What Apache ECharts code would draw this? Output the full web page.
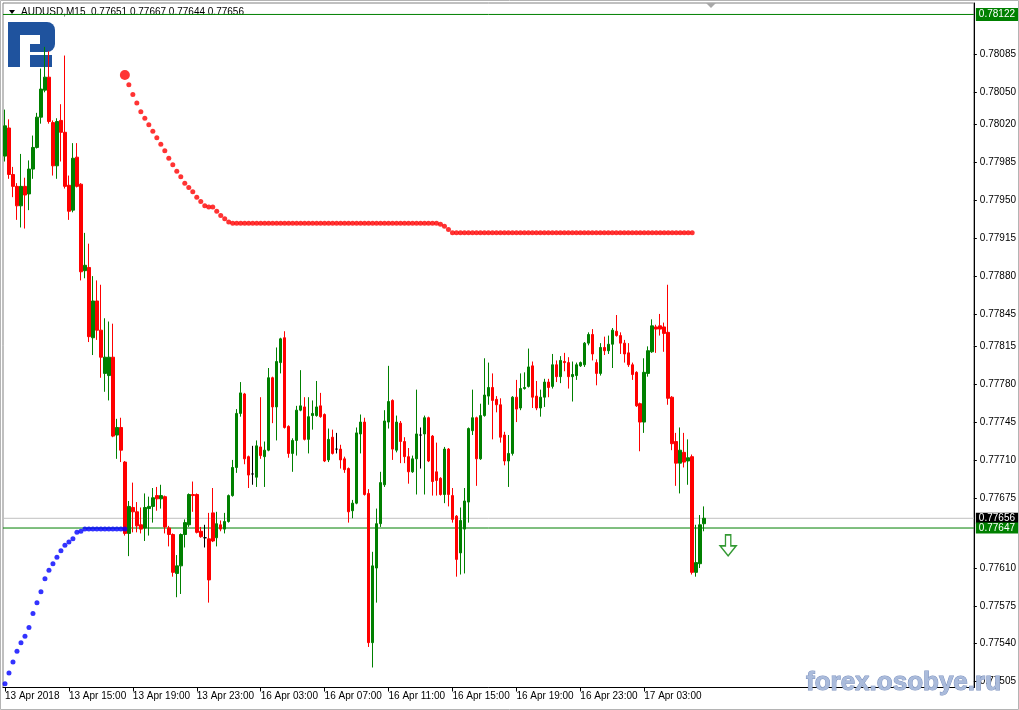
<!DOCTYPE html>
<html><head><meta charset="utf-8">
<script src="https://cdn.jsdelivr.net/npm/echarts@6/dist/echarts.min.js"></script>
<style>html,body{margin:0;padding:0;background:#fff}#c{width:1019px;height:710px}</style>
</head><body><div id="c"></div><script>
// ---- data (AUDUSD M15) ----
const tickLabels = ['13 Apr 2018','13 Apr 15:00','13 Apr 19:00','13 Apr 23:00','16 Apr 03:00','16 Apr 07:00','16 Apr 11:00','16 Apr 15:00','16 Apr 19:00','16 Apr 23:00','17 Apr 03:00'];
const barsPerTick = 16;
const totalSlots = 243;
const priceTicks = [0.78085,0.78050,0.78020,0.77985,0.77950,0.77915,0.77880,0.77845,0.77815,0.77780,0.77745,0.77710,0.77675,0.77610,0.77575,0.77540,0.77505];
const yMin = 0.774995, yMax = 0.781326;

const open = [
0.77991,0.78017,0.77974,0.77963,0.77945,0.77963,0.77956,0.77979,0.77999,0.78027,
0.78052,0.78064,0.78022,0.77982,0.78024,0.78013,0.77964,0.77941,0.77990,0.77965,
0.77885,0.77888,0.77823,0.77857,0.77830,0.77790,0.77788,0.77805,0.77733,0.77740,
0.77708,0.77642,0.77666,0.77662,0.77650,0.77647,0.77665,0.77667,0.77677,0.77674,
0.77676,0.77647,0.77641,0.77605,0.77612,0.77641,0.77650,0.77678,0.77678,0.77644,
0.77638,0.77637,0.77661,0.77638,0.77650,0.77646,0.77653,0.77677,0.77703,0.77753,
0.77771,0.77713,0.77697,0.77694,0.77722,0.77713,0.77719,0.77786,0.77759,0.77800,
0.77823,0.77741,0.77716,0.77728,0.77756,0.77759,0.77729,0.77751,0.77751,0.77760,
0.77752,0.77710,0.77731,0.77720,0.77720,0.77711,0.77702,0.77663,0.77670,0.77734,
0.77745,0.77679,0.77541,0.77610,0.77651,0.77687,0.77745,0.77765,0.77719,0.77744,
0.77727,0.77713,0.77699,0.77711,0.77733,0.77734,0.77749,0.77732,0.77699,0.77693,
0.77678,0.77720,0.77677,0.77658,0.77624,0.77646,0.77671,0.77737,0.77749,0.77711,
0.77751,0.77769,0.77777,0.77766,0.77761,0.77733,0.77709,0.77716,0.77768,0.77758,
0.77776,0.77778,0.77797,0.77769,0.77758,0.77768,0.77782,0.77778,0.77798,0.77787,
0.77801,0.77800,0.77787,0.77788,0.77797,0.77798,0.77818,0.77826,0.77800,0.77790,
0.77814,0.77811,0.77817,0.77829,0.77825,0.77818,0.77809,0.77798,0.77791,0.77762,
0.77745,0.77790,0.77810,0.77833,0.77834,0.77833,0.77828,0.77768,0.77727,0.77707,
0.77717,0.77709,0.77713,0.77606,0.77614,0.77651];
const high = [
0.78034,0.78025,0.77981,0.77966,0.77993,0.77971,0.77987,0.78010,0.78031,0.78072,
0.78092,0.78088,0.78024,0.78026,0.78039,0.78084,0.77973,0.78003,0.78003,0.77966,
0.77920,0.77910,0.77880,0.77876,0.77872,0.77841,0.77838,0.77836,0.77748,0.77749,
0.77709,0.77672,0.77689,0.77671,0.77666,0.77679,0.77676,0.77684,0.77685,0.77687,
0.77677,0.77649,0.77642,0.77622,0.77642,0.77655,0.77679,0.77690,0.77679,0.77648,
0.77650,0.77661,0.77684,0.77662,0.77654,0.77661,0.77678,0.77710,0.77757,0.77782,
0.77772,0.77714,0.77723,0.77728,0.77768,0.77727,0.77795,0.77787,0.77814,0.77823,
0.77829,0.77742,0.77730,0.77760,0.77793,0.77768,0.77768,0.77765,0.77783,0.77772,
0.77753,0.77739,0.77738,0.77735,0.77724,0.77713,0.77703,0.77673,0.77740,0.77752,
0.77749,0.77683,0.77625,0.77665,0.77699,0.77756,0.77797,0.77766,0.77751,0.77746,
0.77731,0.77721,0.77714,0.77775,0.77740,0.77751,0.77750,0.77733,0.77726,0.77694,
0.77722,0.77721,0.77684,0.77659,0.77666,0.77684,0.77740,0.77775,0.77750,0.77762,
0.77804,0.77800,0.77790,0.77769,0.77767,0.77736,0.77733,0.77769,0.77784,0.77790,
0.77791,0.77813,0.77801,0.77783,0.77775,0.77785,0.77785,0.77808,0.77802,0.77806,
0.77809,0.77805,0.77801,0.77800,0.77801,0.77819,0.77828,0.77831,0.77803,0.77818,
0.77824,0.77825,0.77832,0.77844,0.77828,0.77821,0.77818,0.77800,0.77792,0.77763,
0.77804,0.77815,0.77840,0.77835,0.77845,0.77837,0.77872,0.77769,0.77735,0.77740,
0.77735,0.77729,0.77715,0.77650,0.77659,0.77667];
const low = [
0.77986,0.77970,0.77953,0.77932,0.77925,0.77924,0.77941,0.77970,0.77998,0.78021,
0.78050,0.78021,0.77973,0.77970,0.77986,0.77961,0.77932,0.77939,0.77962,0.77876,
0.77878,0.77819,0.77807,0.77821,0.77786,0.77773,0.77765,0.77731,0.77711,0.77708,
0.77640,0.77621,0.77643,0.77643,0.77642,0.77635,0.77640,0.77652,0.77663,0.77665,
0.77642,0.77630,0.77602,0.77583,0.77586,0.77629,0.77648,0.77662,0.77642,0.77638,
0.77629,0.77578,0.77634,0.77630,0.77644,0.77642,0.77652,0.77676,0.77698,0.77750,
0.77706,0.77684,0.77687,0.77685,0.77711,0.77685,0.77718,0.77744,0.77728,0.77790,
0.77739,0.77712,0.77699,0.77714,0.77755,0.77728,0.77716,0.77738,0.77750,0.77749,
0.77708,0.77708,0.77715,0.77716,0.77702,0.77698,0.77652,0.77656,0.77669,0.77716,
0.77677,0.77537,0.77518,0.77578,0.77648,0.77685,0.77739,0.77710,0.77717,0.77707,
0.77707,0.77688,0.77698,0.77678,0.77702,0.77678,0.77708,0.77677,0.77677,0.77677,
0.77670,0.77667,0.77652,0.77602,0.77604,0.77605,0.77652,0.77733,0.77686,0.77710,
0.77750,0.77761,0.77729,0.77754,0.77726,0.77705,0.77685,0.77714,0.77745,0.77756,
0.77775,0.77777,0.77758,0.77756,0.77750,0.77759,0.77768,0.77776,0.77782,0.77781,
0.77792,0.77776,0.77764,0.77784,0.77796,0.77796,0.77816,0.77802,0.77779,0.77788,
0.77807,0.77808,0.77795,0.77824,0.77808,0.77800,0.77796,0.77784,0.77759,0.77718,
0.77735,0.77787,0.77809,0.77809,0.77825,0.77810,0.77761,0.77719,0.77686,0.77679,
0.77703,0.77687,0.77604,0.77602,0.77610,0.77644];
const close = [
0.78019,0.77974,0.77963,0.77945,0.77963,0.77955,0.77979,0.77999,0.78027,0.78053,
0.78064,0.78023,0.77982,0.78023,0.78013,0.77963,0.77940,0.77989,0.77963,0.77884,
0.77890,0.77824,0.77857,0.77830,0.77805,0.77805,0.77805,0.77732,0.77740,0.77719,
0.77642,0.77667,0.77662,0.77649,0.77646,0.77666,0.77667,0.77675,0.77674,0.77677,
0.77648,0.77641,0.77606,0.77612,0.77641,0.77652,0.77678,0.77677,0.77643,0.77639,
0.77638,0.77599,0.77635,0.77651,0.77646,0.77653,0.77677,0.77703,0.77753,0.77772,
0.77711,0.77696,0.77697,0.77723,0.77714,0.77719,0.77786,0.77759,0.77801,0.77822,
0.77740,0.77716,0.77728,0.77756,0.77760,0.77729,0.77750,0.77753,0.77759,0.77750,
0.77709,0.77729,0.77716,0.77720,0.77710,0.77701,0.77662,0.77670,0.77735,0.77745,
0.77678,0.77541,0.77612,0.77651,0.77689,0.77746,0.77764,0.77720,0.77745,0.77727,
0.77713,0.77699,0.77711,0.77734,0.77733,0.77749,0.77709,0.77690,0.77691,0.77678,
0.77720,0.77678,0.77655,0.77618,0.77654,0.77672,0.77739,0.77749,0.77711,0.77751,
0.77770,0.77777,0.77765,0.77761,0.77731,0.77709,0.77716,0.77768,0.77757,0.77776,
0.77777,0.77796,0.77768,0.77758,0.77768,0.77782,0.77777,0.77798,0.77787,0.77802,
0.77800,0.77787,0.77789,0.77798,0.77800,0.77818,0.77826,0.77808,0.77790,0.77814,
0.77811,0.77817,0.77830,0.77825,0.77818,0.77808,0.77798,0.77789,0.77760,0.77745,
0.77791,0.77811,0.77834,0.77831,0.77831,0.77827,0.77767,0.77725,0.77707,0.77719,
0.77708,0.77712,0.77606,0.77615,0.77650,0.77656];

// indicator dots
const blueStart = 0;
const blueDots = [0.77503,0.77513,0.77523,0.77533,0.77541,0.77547,0.77555,0.77568,0.77578,0.77588,
0.77600,0.77608,0.77614,0.77620,0.77626,0.77631,0.77634,0.77637,0.77643,0.77644,
0.77646,0.77646,0.77646,0.77646,0.77646,0.77646,0.77646,0.77646,0.77646,0.77646,0.77646];
const redStart = 30;
const redDots = [0.78066,0.78057,0.78048,0.78040,0.78032,0.78026,0.78020,0.78014,0.78008,0.78002,
0.77996,0.77989,0.77983,0.77977,0.77972,0.77966,0.77962,0.77958,0.77953,0.77949,
0.77945,0.77944,0.77944,0.77940,0.77936,0.77933,0.77930,
0.77929,0.77929,0.77929,0.77929,0.77929,0.77929,0.77929,0.77929,0.77929,0.77929,
0.77929,0.77929,0.77929,0.77929,0.77929,0.77929,0.77929,0.77929,0.77929,0.77929,
0.77929,0.77929,0.77929,0.77929,0.77929,0.77929,0.77929,0.77929,0.77929,0.77929,
0.77929,0.77929,0.77929,0.77929,0.77929,0.77929,0.77929,0.77929,0.77929,0.77929,
0.77929,0.77929,0.77929,0.77929,0.77929,0.77929,0.77929,0.77929,0.77929,0.77929,
0.77929,0.77929,
0.77928,0.77926,0.77923,
0.77920,0.77920,0.77920,0.77920,0.77920,0.77920,0.77920,0.77920,0.77920,0.77920,
0.77920,0.77920,0.77920,0.77920,0.77920,0.77920,0.77920,0.77920,0.77920,0.77920,
0.77920,0.77920,0.77920,0.77920,0.77920,0.77920,0.77920,0.77920,0.77920,0.77920,
0.77920,0.77920,0.77920,0.77920,0.77920,0.77920,0.77920,0.77920,0.77920,0.77920,
0.77920,0.77920,0.77920,0.77920,0.77920,0.77920,0.77920,0.77920,0.77920,0.77920,
0.77920,0.77920,0.77920,0.77920,0.77920,0.77920,0.77920,0.77920,0.77920,0.77920,
0.77920];

// horizontal levels and signal
const levelLines = [0.78122, 0.77647];
const bidPrice = 0.77656;
const titleText = 'AUDUSD,M15  0.77651 0.77667 0.77644 0.77656';
const arrowSignal = [181, 0.77631];

// ---- chart ----
const FONT = '"Liberation Sans", Arial, sans-serif';
const cats = [];
for (let i = 0; i < totalSlots; i++) cats.push(String(i));
const isTick = (i) => i % barsPerTick === 0 && (i / barsPerTick) < tickLabels.length;

const candles = open.map((o, i) => [o, close[i], low[i], high[i]]);

function hLine(price, color, bg, pad) {
  return {
    type: 'line', xAxisIndex: 1, silent: true, z: 1, showSymbol: false, symbol: 'none',
    data: [[0, price], [1, price]],
    lineStyle: {color: color, width: 1, type: 'solid'},
    endLabel: {show: true, formatter: price.toFixed(5), distance: 2, color: '#fff', backgroundColor: bg,
      fontSize: 10, fontFamily: FONT, padding: pad || [1, 3, 0, 3]}
  };
}

const chart = echarts.init(document.getElementById('c'), null, {renderer: 'canvas'});
chart.setOption({
  animation: false,
  backgroundColor: '#ffffff',
  grid: {left: 3, right: 44, top: 3, bottom: 22.5, show: true, borderColor: '#808080', borderWidth: 1},
  xAxis: [{
    type: 'category', data: cats, boundaryGap: true,
    axisLine: {show: true, onZero: false, lineStyle: {color: '#000', width: 1}},
    axisTick: {show: true, alignWithLabel: true, interval: (i) => isTick(i), length: 4, lineStyle: {color: '#000'}},
    axisLabel: {interval: (i) => isTick(i), formatter: (v, i) => tickLabels[Math.round(i / barsPerTick)] || '',
      align: 'left', margin: 4, fontSize: 10, color: '#000', fontFamily: FONT},
    splitLine: {show: false}
  }, {
    type: 'value', min: 0, max: 1, show: false, axisLine: {onZero: false}
  }],
  yAxis: {
    type: 'value', position: 'right', min: yMin, max: yMax, scale: true,
    axisLine: {show: true, onZero: false, lineStyle: {color: '#000', width: 1}},
    axisTick: {show: true, inside: false, customValues: priceTicks, length: 3, lineStyle: {color: '#000'}},
    axisLabel: {customValues: priceTicks, formatter: (v) => v.toFixed(5), margin: 6, fontSize: 10, color: '#000', fontFamily: FONT},
    splitLine: {show: false}
  },
  series: [
    hLine(levelLines[0], '#008000', '#008000', [2, 3, 1, 3]),
    hLine(bidPrice, '#c0c0c0', '#000000'),
    hLine(levelLines[1], '#008000', '#008000'),
    {
      type: 'candlestick', data: candles, barWidth: 3, silent: true, z: 2,
      itemStyle: {color: '#008000', color0: '#ff0000', borderColor: '#008000', borderColor0: '#ff0000', borderColorDoji: '#000000', borderWidth: 1}
    },
    {
      type: 'scatter', silent: true, z: 3,
      data: blueDots.map((v, i) => [blueStart + i, v]),
      symbolSize: 5, itemStyle: {color: '#0000ff'}
    },
    {
      type: 'scatter', silent: true, z: 3,
      data: redDots.map((v, i) => [redStart + i, v]),
      symbolSize: (val, p) => p.dataIndex === 0 ? 10 : 5, itemStyle: {color: '#ff0000'}
    },
    {
      type: 'scatter', silent: true, z: 4,
      data: [arrowSignal],
      symbol: 'path://M3,0 L9,0 L9,11 L15,11 L6,21 L-3,11 L3,11 Z', symbolSize: [16, 21],
      itemStyle: {color: '#ffffff', borderColor: '#008000', borderWidth: 1.5}
    }
  ],
  graphic: [
    {type: 'rect', silent: true, z: 0, shape: {x: 0.5, y: 0.5, width: 1018, height: 709}, style: {fill: 'none', stroke: '#b4b4b4', lineWidth: 1}},
    {type: 'polygon', silent: true, shape: {points: [[9, 10], [15, 10], [12, 14]]}, style: {fill: '#000'}},
    {type: 'text', silent: true, x: 21, y: 12, style: {text: titleText, font: '10px ' + FONT, fill: '#000', verticalAlign: 'middle', align: 'left'}},
    {type: 'polygon', silent: true, shape: {points: [[706, 3], [716, 3], [711, 8]]}, style: {fill: '#a8a8a8'}},
    {type: 'group', silent: true, z: 50, children: [
      {type: 'rect', shape: {x: 8, y: 22, width: 12, height: 45}, style: {fill: '#1f539e'}},
      {type: 'rect', shape: {x: 8, y: 22, width: 38, height: 13}, style: {fill: '#1f539e'}},
      {type: 'rect', shape: {x: 40, y: 22, width: 15, height: 30, r: [0, 8, 8, 0]}, style: {fill: '#1f539e'}},
      {type: 'rect', shape: {x: 30, y: 44, width: 16, height: 8}, style: {fill: '#1f539e'}},
      {type: 'rect', shape: {x: 30, y: 55, width: 22, height: 12}, style: {fill: '#1f539e'}}
    ]},
    {type: 'text', silent: true, z: 100, x: 806, y: 696,
     style: {text: 'forex.osobye.ru', font: 'bold 26px ' + FONT, fill: '#aabbdb', stroke: '#7d92bf', lineWidth: 1, verticalAlign: 'bottom', align: 'left'}}
  ]
});
</script></body></html>
